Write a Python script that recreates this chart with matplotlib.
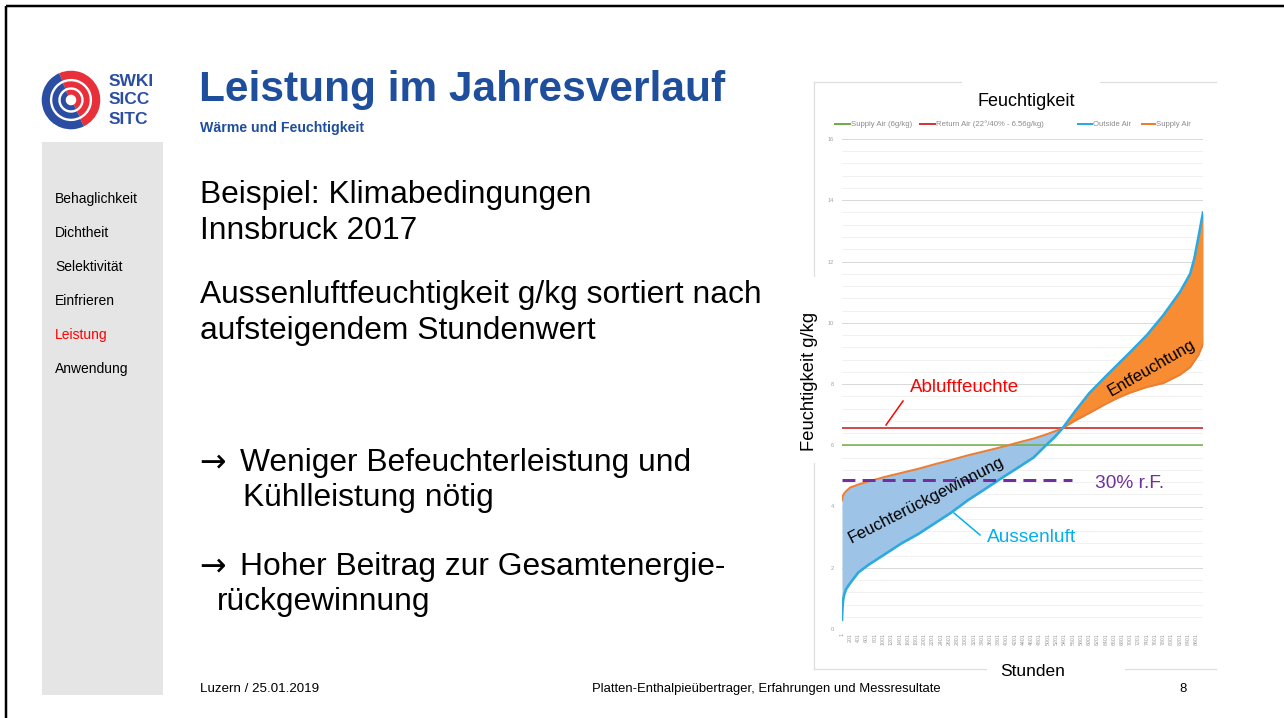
import numpy as np
import matplotlib
matplotlib.use('Agg')
import matplotlib.pyplot as plt
from matplotlib.patches import Rectangle, Wedge

plt.rcParams['font.family'] = ['Liberation Sans', 'DejaVu Sans']

# ---------------- data ----------------
hours = [1, 10, 24, 50, 100, 200, 400, 650, 1050, 1450, 1850, 2250, 2650, 3050,
         3450, 3900, 4250, 4650, 4950, 5150, 5350, 5650, 6000, 6400, 6700,
         7000, 7400, 7800, 8200, 8450, 8550, 8650, 8760]
outside_air = [0.3, 0.6, 0.9, 1.1, 1.3, 1.5, 1.85, 2.1, 2.45, 2.8, 3.1, 3.45,
               3.8, 4.2, 4.55, 4.95, 5.25, 5.6, 6.0, 6.25, 6.55, 7.1, 7.7,
               8.25, 8.65, 9.05, 9.6, 10.25, 11.0, 11.6, 12.1, 12.8, 13.6]
supply_air = [4.2, 4.28, 4.35, 4.42, 4.5, 4.62, 4.72, 4.82, 4.97, 5.1, 5.23,
              5.38, 5.52, 5.67, 5.8, 5.95, 6.08, 6.22, 6.35, 6.45, 6.55, 6.8,
              7.05, 7.35, 7.55, 7.72, 7.9, 8.03, 8.3, 8.55, 8.75, 8.95, 9.3]
supply_fixed = 6.0        # Supply Air (6g/kg)
return_air = 6.56         # Return Air (22°/40% - 6.56g/kg)
rh30_value = 4.85         # 30% r.F.
rh30_end_hour = 5580
y_ticks = list(range(0, 17, 2))
x_tick_hours = list(range(1, 8760, 200))
legend_labels = ['Supply Air (6g/kg)', 'Return Air (22°/40% - 6.56g/kg)',
                 'Outside Air', 'Supply Air']
menu_items = ['Behaglichkeit', 'Dichtheit', 'Selektivität', 'Einfrieren',
              'Leistung', 'Anwendung']
active_item = 'Leistung'

# ---------------- colours ----------------
C_GREEN = '#70AD47'
C_RED = '#D0393B'
C_BLUE = '#2BAAE2'
C_ORANGE = '#ED7D31'
C_FILL_BLUE = '#9DC3E6'
C_FILL_ORANGE = '#F78C32'
C_PURPLE = '#7030A0'
C_TITLE = '#1F4E9C'
C_LOGO_BLUE = '#2B4EA2'
C_LOGO_RED = '#E8303A'

W, H = 1284, 718
fig = plt.figure(figsize=(W / 100, H / 100), dpi=100)

# background overlay in pixel coordinates
bg = fig.add_axes([0, 0, 1, 1])
bg.set_xlim(0, W)
bg.set_ylim(H, 0)
bg.axis('off')
bg.set_zorder(0)

px = 0.72  # points per pixel

# slide frame
bg.plot([6, W], [6, 6], color='black', lw=2.5 * px, solid_capstyle='butt')
bg.plot([6, 6], [6, H], color='black', lw=2.5 * px, solid_capstyle='butt')

# sidebar
bg.add_patch(Rectangle((42, 142), 121, 553, color='#E5E5E5', lw=0))
for i, item in enumerate(menu_items):
    bg.text(55, 199 + i * 34.0, item, fontsize=10.0,
            color='#FF0000' if item == active_item else 'black',
            va='center', ha='left')

# logo
cx, cy = 71, 100
rings = [(29.3, 8.2), (18.7, 6.0), (10.3, 5.0)]
splits = [(-64, 114), (-62, 116), (-60, 120)]
for (r, w), (a1, a2) in zip(rings, splits):
    # visual angles -> data angles (y inverted)
    bg.add_patch(Wedge((cx, cy), r, -a2, -a1, width=w, color=C_LOGO_RED, lw=0))
    bg.add_patch(Wedge((cx, cy), r, -a1, 360 - a2, width=w, color=C_LOGO_BLUE, lw=0))
for j, t in enumerate(['SWKI', 'SICC', 'SITC']):
    bg.text(109, 81 + j * 19, t, fontsize=12.5, fontweight='bold',
            color=C_LOGO_BLUE, va='center', ha='left')

# titles
bg.text(199, 101, 'Leistung im Jahresverlauf', fontsize=30.5, fontweight='bold',
        color=C_TITLE, va='baseline', ha='left')
bg.text(200, 132, 'Wärme und Feuchtigkeit', fontsize=10.2, fontweight='bold',
        color=C_TITLE, va='baseline', ha='left')

# body text
body_fs = 22.85
body = [(200, 195, 'Beispiel: Klimabedingungen'),
        (200, 231, 'Innsbruck 2017'),
        (200, 295, 'Aussenluftfeuchtigkeit g/kg sortiert nach'),
        (200, 331, 'aufsteigendem Stundenwert'),
        (240, 463, 'Weniger Befeuchterleistung und'),
        (243, 498, 'Kühlleistung nötig'),
        (240, 567, 'Hoher Beitrag zur Gesamtenergie-'),
        (217, 602, 'rückgewinnung')]
for x, y, t in body:
    bg.text(x, y, t, fontsize=body_fs, va='center', ha='left', color='black')
for y in (463, 567):
    bg.text(199, y, '\u2192', fontsize=body_fs, va='center', ha='left',
            color='black', family='DejaVu Sans')

# footer
bg.text(200, 689, 'Luzern / 25.01.2019', fontsize=9.6, va='center', ha='left')
bg.text(766, 689, 'Platten-Enthalpieübertrager, Erfahrungen und Messresultate',
        fontsize=9.4, va='center', ha='center')
bg.text(1183, 689, '8', fontsize=9.4, va='center', ha='center')

# chart picture frame
FR = '#DDDDDD'
bg.plot([814, 1216], [82, 82], color=FR, lw=1.2 * px)
bg.plot([814, 1216], [669, 669], color=FR, lw=1.2 * px)
bg.plot([814, 814], [82, 669], color=FR, lw=1.2 * px)
bg.add_patch(Rectangle((962, 76), 138, 18, color='white', lw=0, zorder=3))
bg.add_patch(Rectangle((800, 277), 20, 186, color='white', lw=0, zorder=3))
bg.add_patch(Rectangle((987, 660), 138, 22, color='white', lw=0, zorder=3))
bg.text(1026, 102, 'Feuchtigkeit', fontsize=13, va='center', ha='center', zorder=4)
bg.text(1033, 672, 'Stunden', fontsize=12.5, va='center', ha='center', zorder=4)
bg.text(810, 381, 'Feuchtigkeit g/kg', fontsize=13.2, rotation=90,
        va='center', ha='center', zorder=4)

# legend (small, inside picture)
leg_y = 124
leg_items = [(835, 850, C_GREEN), (920, 935, C_RED),
             (1078, 1092, C_BLUE), (1142, 1155, C_ORANGE)]
for (x1, x2, c), lab in zip(leg_items, legend_labels):
    bg.plot([x1, x2], [leg_y, leg_y], color=c, lw=2 * px)
    bg.text(x2 + 1, leg_y, lab, fontsize=5.6, color='#8C8C8C', va='center', ha='left')

# ---------------- chart ----------------
y0, y16 = 629, 139
ax = fig.add_axes([842 / W, (H - y0) / H, 361 / W, (y0 - y16) / H])
ax.set_zorder(1)
ax.patch.set_alpha(0)
ax.set_xlim(1, 8760)
ax.set_ylim(0, 16)

hrs = np.array(hours, dtype=float)
oa = np.array(outside_air)
sa = np.array(supply_air)

ax.set_yticks(y_ticks)
ax.set_yticks(np.arange(0, 16.01, 0.4), minor=True)
ax.grid(axis='y', which='major', color='#D9D9D9', lw=1.0 * px)
ax.grid(axis='y', which='minor', color='#F0F0F0', lw=0.9 * px)
ax.set_axisbelow(True)
ax.set_xticks(x_tick_hours)
ax.set_xticklabels([str(h) for h in x_tick_hours], rotation=90,
                   fontsize=3.8, color='#9A9A9A')
ax.tick_params(axis='x', length=0, pad=3)
ax.tick_params(axis='y', which='both', length=0, labelsize=4, labelcolor='#A0A0A0', pad=6)
ax.tick_params(axis='y', which='minor', labelleft=False)
for s in ax.spines.values():
    s.set_visible(False)

ax.fill_between(hrs, oa, sa, where=sa >= oa, interpolate=True,
                color=C_FILL_BLUE, lw=0)
ax.fill_between(hrs, oa, sa, where=oa >= sa, interpolate=True,
                color=C_FILL_ORANGE, lw=0)
ax.axhline(supply_fixed, color=C_GREEN, lw=1.5 * px)
ax.axhline(return_air, color=C_RED, lw=1.8 * px)
ax.plot(hrs, sa, color=C_ORANGE, lw=2.0 * px)
ax.plot(hrs, oa, color=C_BLUE, lw=2.6 * px)
ax.plot([0, rh30_end_hour], [rh30_value, rh30_value], color=C_PURPLE,
        lw=3 * px, ls=(0, (4.3, 2.4)), clip_on=False)

# ---------------- annotations overlay ----------------
fg = fig.add_axes([0, 0, 1, 1])
fg.set_xlim(0, W)
fg.set_ylim(H, 0)
fg.axis('off')
fg.set_zorder(2)
fg.patch.set_alpha(0)

fg.text(965, 388, 'Abluftfeuchte', fontsize=13.5, color='#FF0000',
        va='center', ha='center')
fg.plot([886, 903], [425, 401], color='#FF0000', lw=1.5 * px)
fg.text(1095, 483, '30% r.F.', fontsize=13.8, color=C_PURPLE,
        va='center', ha='left')
fg.text(987, 537, 'Aussenluft', fontsize=13.8, color='#00B0F0',
        va='center', ha='left')
fg.plot([954, 980], [513, 535], color='#00B0F0', lw=1.5 * px)
fg.text(926, 500, 'Feuchterückgewinnung', fontsize=12, rotation=27,
        va='center', ha='center', rotation_mode='anchor')
fg.text(1152, 368, 'Entfeuchtung', fontsize=12, rotation=30,
        va='center', ha='center', rotation_mode='anchor')

fig.savefig('out.png', dpi=100)
